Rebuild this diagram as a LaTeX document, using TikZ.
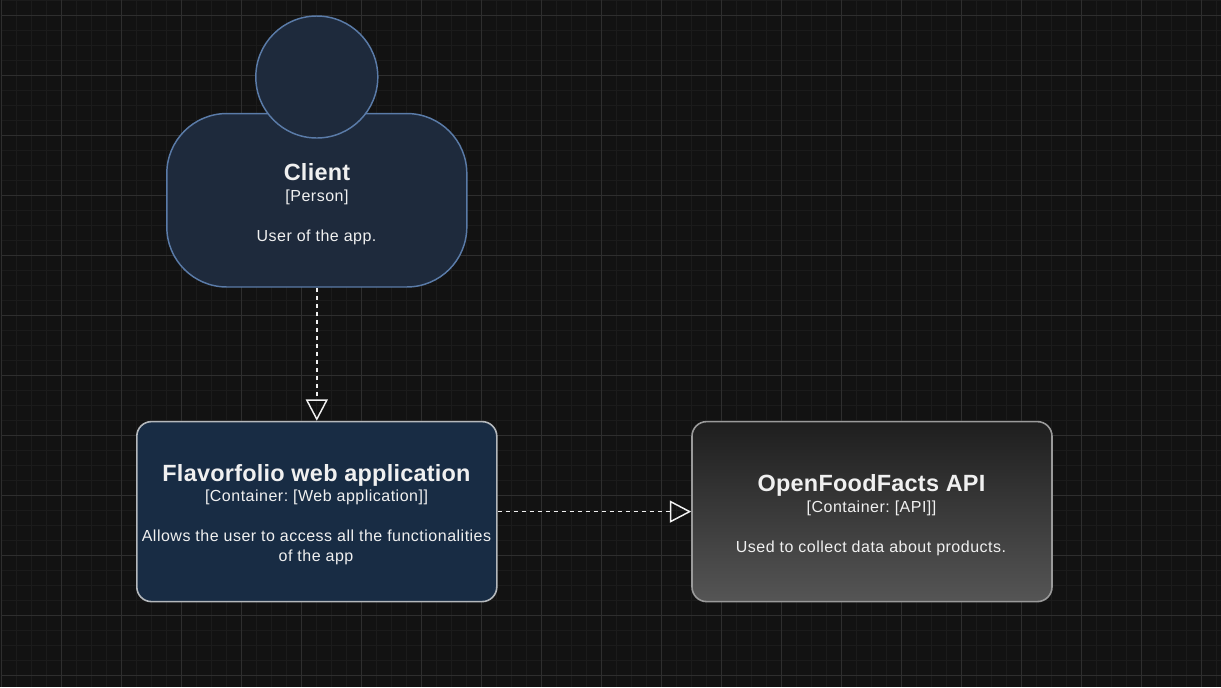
\documentclass[tikz,border=0pt]{standalone}
\usepackage{fontspec}
\setmainfont{Liberation Sans}
\newfontfamily\titlefam[LetterSpace=1.0]{Liberation Sans}
\newfontfamily\smallfam[LetterSpace=3.1]{Liberation Sans}
\usetikzlibrary{arrows.meta}
\definecolor{bgc}{HTML}{121212}
\definecolor{gridminor}{HTML}{1B1B1B}
\definecolor{gridmajor}{HTML}{2E2E2E}
\definecolor{personfill}{HTML}{1E2A3C}
\definecolor{personline}{HTML}{5A7BA8}
\definecolor{appfill}{HTML}{182C44}
\definecolor{boxline}{HTML}{B4B8BC}
\definecolor{apiline}{HTML}{9A9A9A}
\definecolor{txt}{HTML}{F0F0F0}
\definecolor{apitop}{HTML}{1E1E1E}
\definecolor{apibottom}{HTML}{555555}
\tikzset{
  x=0.75pt,y=-0.75pt,
  titletext/.style={anchor=base,inner sep=0pt,text=txt,font=\titlefam\fontsize{17.6pt}{20pt}\selectfont\bfseries},
  smalltext/.style={anchor=base,inner sep=0pt,text=txt,font=\smallfam\fontsize{12pt}{15pt}\selectfont\frenchspacing},
  personshape/.style={draw=personline,fill=personfill,line width=1.1pt},
  bodybox/.style={personshape,rounded corners=45pt,minimum width=225pt,minimum height=130.1pt,inner sep=0pt},
  headcircle/.style={personshape,circle,minimum size=91.5pt,inner sep=0pt},
  appbox/.style={draw=boxline,fill=appfill,line width=1.2pt,rounded corners=11pt,minimum width=270pt,minimum height=135pt,inner sep=0pt},
  apibox/.style={draw=apiline,line width=1.2pt,rounded corners=11pt,minimum width=270pt,minimum height=135pt,inner sep=0pt,top color=apitop,bottom color=apibottom},
  relation/.style={draw=txt,line width=1.1pt,dash pattern=on 3pt off 3pt,-{Triangle[open,length=16pt,width=16.5pt,line width=1.1pt]}},
}
\begin{document}
\begin{tikzpicture}
\useasboundingbox (0,0) rectangle (1221,687);
\fill[bgc] (0,0) rectangle (1221,687);
\foreach \i in {0,...,81} {
  \draw[gridminor,line width=0.75pt] ({1.5+15*\i},0) -- ({1.5+15*\i},687);
}
\foreach \i in {0,...,45} {
  \draw[gridminor,line width=0.75pt] (1.5,{0.5+15*\i}) -- (1221,{0.5+15*\i});
}
\foreach \i in {0,...,20} {
  \draw[gridmajor,line width=0.75pt] ({1.5+60*\i},0) -- ({1.5+60*\i},687);
}
\foreach \i in {0,...,11} {
  \draw[gridmajor,line width=0.75pt] (1.5,{15.5+60*\i}) -- (1221,{15.5+60*\i});
}
\node[bodybox] (client) at (316.8,200.25) {};
\node[headcircle] (head) at (316.8,77) {};
\node[appbox] (app) at (316.8,511.6) {};
\node[apibox] (api) at (872,511.6) {};
\draw[relation] (client.south) -- (app.north);
\draw[relation] (app.east) -- (api.west);
\node[titletext] (t1) at (317,180) {Client};
\node[smalltext] (t2) at (317,201) {[Person]};
\node[smalltext] (t3) at (316.5,241) {User of the app.};
\node[titletext] (t4) at (316.5,481) {Flavorfolio web application};
\node[smalltext] (t5) at (316.5,501) {[Container: [Web application]]};
\node[smalltext] (t6) at (316.5,541) {Allows the user to access all the functionalities};
\node[smalltext] (t7) at (316,561) {of the app};
\node[titletext] (t8) at (871.5,491) {OpenFoodFacts API};
\node[smalltext] (t9) at (871.5,512) {[Container: [API]]};
\node[smalltext] (t10) at (871,552) {Used to collect data about products.};
\end{tikzpicture}
\end{document}
